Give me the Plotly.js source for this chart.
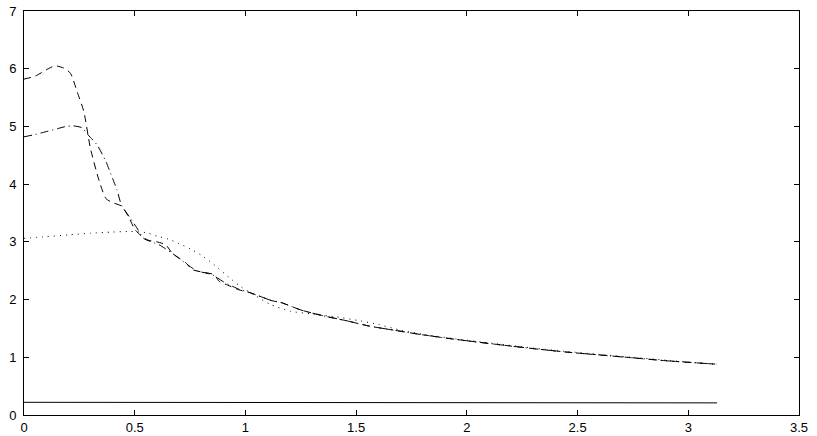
<!DOCTYPE html>
<html>
<head>
<meta charset="utf-8">
<script src="https://cdn.plot.ly/plotly-3.0.1.min.js"></script>
<style>
  html, body { margin: 0; padding: 0; background: #fff; }
  #graph { width: 817px; height: 436px; }
</style>
</head>
<body>
<div id="graph"></div>
<script>
// values
var baseX = [0, 3.13];
var baseY = [0.22, 0.21];

var dashX = [0, 0.05, 0.10, 0.14, 0.18, 0.21, 0.24, 0.27, 0.30, 0.34, 0.37, 0.40, 0.44, 0.47, 0.50, 0.53, 0.56, 0.60, 0.64, 0.67, 0.70, 0.73, 0.76, 0.80, 0.86, 0.88, 0.92, 0.97, 1.02, 1.07, 1.12, 1.16, 1.25, 1.35, 1.46, 1.56, 1.67, 1.80, 1.95, 2.12, 2.30, 2.45, 2.60, 2.75, 2.90, 3.05, 3.13];
var dashY = [5.82, 5.87, 5.98, 6.05, 6.01, 5.92, 5.60, 5.26, 4.62, 4.05, 3.75, 3.68, 3.62, 3.45, 3.22, 3.10, 3.03, 3.00, 2.95, 2.80, 2.72, 2.64, 2.52, 2.48, 2.43, 2.32, 2.25, 2.17, 2.12, 2.05, 1.98, 1.95, 1.82, 1.72, 1.63, 1.54, 1.47, 1.39, 1.31, 1.23, 1.15, 1.09, 1.04, 0.99, 0.94, 0.90, 0.88];

var dashdotX = [0, 0.05, 0.10, 0.15, 0.19, 0.22, 0.26, 0.29, 0.33, 0.37, 0.40, 0.42, 0.44, 0.48, 0.51, 0.54, 0.61, 0.67, 0.74, 0.78, 0.85, 0.90, 0.97, 1.02, 1.07, 1.12, 1.16, 1.25, 1.35, 1.46, 1.56, 1.67, 1.80, 1.95, 2.12, 2.30, 2.45, 2.60, 2.75, 2.90, 3.05, 3.13];
var dashdotY = [4.82, 4.86, 4.91, 4.96, 5.00, 5.01, 4.98, 4.85, 4.68, 4.39, 4.10, 3.90, 3.64, 3.41, 3.24, 3.06, 2.95, 2.80, 2.60, 2.50, 2.43, 2.31, 2.18, 2.12, 2.05, 1.98, 1.95, 1.82, 1.72, 1.63, 1.54, 1.47, 1.39, 1.31, 1.23, 1.15, 1.09, 1.04, 0.99, 0.94, 0.90, 0.88];

var dotX = [0, 0.10, 0.20, 0.30, 0.40, 0.48, 0.55, 0.60, 0.65, 0.70, 0.75, 0.80, 0.85, 0.89, 0.94, 0.98, 1.04, 1.11, 1.20, 1.30, 1.41, 1.52, 1.60, 1.70, 1.80, 1.95, 2.12, 2.30, 2.45, 2.60, 2.75, 2.90, 3.05, 3.13];
var dotY = [3.06, 3.09, 3.12, 3.15, 3.17, 3.18, 3.16, 3.10, 3.05, 2.97, 2.88, 2.77, 2.63, 2.50, 2.34, 2.22, 2.08, 1.92, 1.80, 1.75, 1.70, 1.63, 1.57, 1.47, 1.40, 1.32, 1.24, 1.16, 1.10, 1.05, 1.00, 0.95, 0.90, 0.88];

var xTicks = [0, 0.5, 1, 1.5, 2, 2.5, 3, 3.5];
var xTickText = ['0', '0.5', '1', '1.5', '2', '2.5', '3', '3.5'];
var yTicks = [0, 1, 2, 3, 4, 5, 6, 7];

function trace(x, y, dash) {
    return {
        x: x,
        y: y,
        type: 'scatter',
        mode: 'lines',
        line: {color: '#000', width: 1, dash: dash, shape: 'spline', smoothing: 0.6},
        hoverinfo: 'skip',
    };
}

var data = [
    trace(baseX, baseY, 'solid'),
    trace(dashX, dashY, '7px,5px'),
    trace(dashdotX, dashdotY, '8px,4px,1px,4px'),
    trace(dotX, dotY, '1px,5px'),
];

var axisStyle = {
    showgrid: false,
    zeroline: false,
    showline: true,
    linecolor: '#000',
    linewidth: 1,
    mirror: 'ticks',
    ticks: 'inside',
    ticklen: 5,
    tickcolor: '#000',
    tickwidth: 1,
    tickfont: {family: 'Liberation Sans, Arial, sans-serif', size: 13, color: '#000'},
};

var layout = {
    width: 817,
    height: 436,
    margin: {l: 24, r: 18, t: 11, b: 21},
    paper_bgcolor: '#fff',
    plot_bgcolor: '#fff',
    showlegend: false,
    xaxis: Object.assign({}, axisStyle, {
        range: [0, 3.5],
        tickvals: xTicks,
        ticktext: xTickText,
    }),
    yaxis: Object.assign({}, axisStyle, {
        range: [0, 7],
        tickvals: yTicks,
        ticklabelstandoff: 4,
    }),
};

Plotly.newPlot('graph', data, layout, {staticPlot: true});
</script>
</body>
</html>
